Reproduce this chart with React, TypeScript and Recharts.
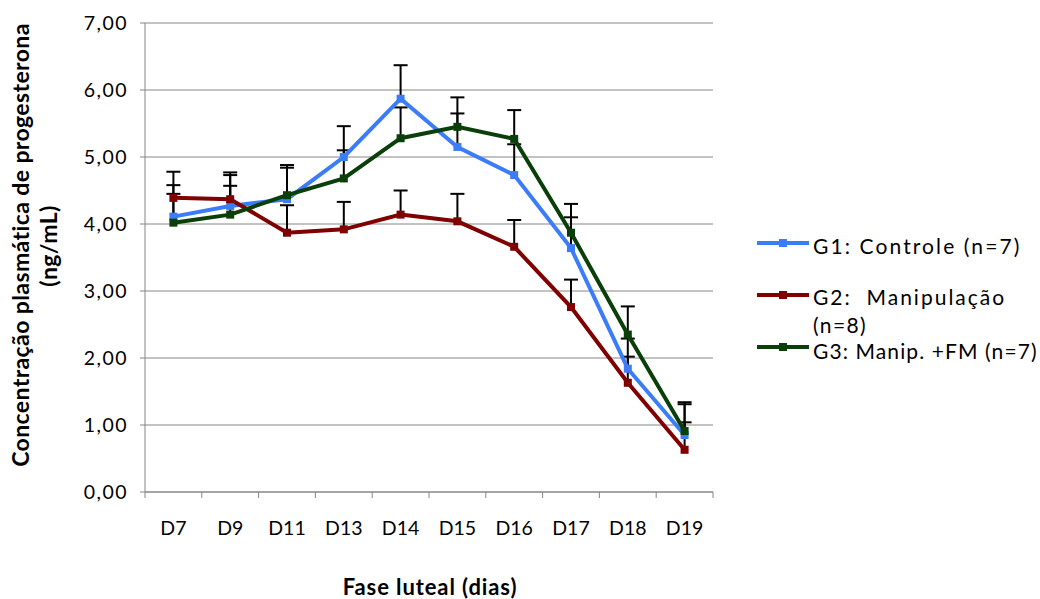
import {
  CartesianGrid,
  Label,
  Legend,
  Line,
  LineChart,
  ReferenceLine,
  XAxis,
  YAxis,
} from 'recharts';

const days = ['D7', 'D9', 'D11', 'D13', 'D14', 'D15', 'D16', 'D17', 'D18', 'D19'];

const g1Values = [4.11, 4.27, 4.37, 5.0, 5.87, 5.15, 4.73, 3.64, 1.84, 0.85];
const g2Values = [4.39, 4.37, 3.87, 3.92, 4.14, 4.04, 3.66, 2.76, 1.63, 0.63];
const g3Values = [4.02, 4.14, 4.43, 4.68, 5.28, 5.45, 5.27, 3.87, 2.35, 0.91];

// upper error only (plus side)
const g1Errors = [0.47, 0.46, 0.47, 0.46, 0.5, 0.5, 0.46, 0.46, 0.45, 0.46];
const g2Errors = [0.39, 0.4, 0.41, 0.41, 0.36, 0.41, 0.4, 0.41, 0.39, 0.41];
const g3Errors = [0.43, 0.43, 0.45, 0.42, 0.46, 0.44, 0.43, 0.43, 0.42, 0.43];

const yTicks = [0, 1, 2, 3, 4, 5, 6, 7];

const series = [
  { key: 'g1', name: 'G1: Controle (n=7)', color: '#3b7cf8', values: g1Values, errors: g1Errors },
  { key: 'g2', name: 'G2:  Manipulação (n=8)', color: '#800000', values: g2Values, errors: g2Errors },
  { key: 'g3', name: 'G3: Manip. +FM (n=7)', color: '#0a3f0a', values: g3Values, errors: g3Errors },
];

const data = days.map((day, i) => ({
  day,
  g1: g1Values[i],
  g2: g2Values[i],
  g3: g3Values[i],
}));

const FONT = 'Lato, "Open Sans", sans-serif';
const AXIS_GRAY = '#868686';
const WIDTH = 1040;
const HEIGHT = 599;
const MARGIN = { top: 23, right: 327, bottom: 0, left: 0 };
const Y_AXIS_WIDTH = 145;
const BAND = (WIDTH - MARGIN.right - MARGIN.left - Y_AXIS_WIDTH) / days.length;

function DayTick(props: any) {
  const { x, y, payload, index } = props;
  const left = x - BAND / 2;
  const right = x + BAND / 2;
  return (
    <g>
      <line x1={left} x2={left} y1={y} y2={y + 6} stroke={AXIS_GRAY} />
      {index === days.length - 1 && (
        <line x1={right} x2={right} y1={y} y2={y + 6} stroke={AXIS_GRAY} />
      )}
      <text
        x={x}
        y={y + 35}
        textAnchor="middle"
        dominantBaseline="central"
        fontFamily={FONT}
        fontSize={19.5}
        fill="#000"
      >
        {payload.value}
      </text>
    </g>
  );
}

function ErrorShape(props: any) {
  const { x1, y1, x2, y2 } = props;
  const top = Math.min(y1, y2);
  return (
    <g>
      <line x1={x1} x2={x2} y1={y1} y2={y2} stroke="#000" strokeWidth={2} />
      <line x1={x1 - 7} x2={x1 + 7} y1={top} y2={top} stroke="#000" strokeWidth={2} />
    </g>
  );
}

function YTitle() {
  return (
    <g fontFamily={FONT} fontWeight="bold" fontSize={23} fill="#000" letterSpacing={0.4}>
      <text transform="translate(20,245) rotate(-90)" textAnchor="middle" dominantBaseline="central">
        Concentração plasmática de progesterona
      </text>
      <text transform="translate(48,246) rotate(-90)" textAnchor="middle" dominantBaseline="central">
        (ng/mL)
      </text>
    </g>
  );
}

function XTitle() {
  return (
    <text
      x={430}
      y={586}
      textAnchor="middle"
      dominantBaseline="central"
      fontFamily={FONT}
      fontWeight="bold"
      fontSize={22}
      letterSpacing={0.9}
      fill="#000"
    >
      Fase luteal (dias)
    </text>
  );
}

function LegendIcon({ color }: { color: string }) {
  return (
    <svg width={52} height={10} style={{ position: 'absolute', left: 0, top: -5 }}>
      <line x1={0} x2={52} y1={5} y2={5} stroke={color} strokeWidth={4} />
      <rect x={22} y={1} width={8} height={8} fill={color} />
    </svg>
  );
}

function LegendBox() {
  const textStyle = {
    position: 'absolute' as const,
    left: 56,
    fontFamily: FONT,
    fontSize: 21,
    color: '#000',
    whiteSpace: 'nowrap' as const,
    lineHeight: '22px',
  };
  return (
    <div style={{ position: 'relative', width: 283, height: 140 }}>
      <div style={{ position: 'absolute', left: 0, top: 15 }}>
        <LegendIcon color={series[0].color} />
      </div>
      <div style={{ ...textStyle, top: 7, letterSpacing: 2.1 }}>G1: Controle (n=7)</div>

      <div style={{ position: 'absolute', left: 0, top: 67 }}>
        <LegendIcon color={series[1].color} />
      </div>
      <div style={{ ...textStyle, top: 58, letterSpacing: 2 }}>G2:&nbsp; Manipulação</div>
      <div style={{ ...textStyle, top: 86, letterSpacing: 1.4 }}>(n=8)</div>

      <div style={{ position: 'absolute', left: 0, top: 119 }}>
        <LegendIcon color={series[2].color} />
      </div>
      <div style={{ ...textStyle, top: 112, letterSpacing: 1.1 }}>G3: Manip. +FM (n=7)</div>
    </div>
  );
}

export default function App() {
  return (
    <div style={{ position: 'absolute', left: 0, top: 0, width: WIDTH, height: HEIGHT, background: '#fff' }}>
      <LineChart width={WIDTH} height={HEIGHT} data={data} margin={MARGIN}>
        <CartesianGrid vertical={false} stroke={AXIS_GRAY} strokeWidth={1} />
        <XAxis
          dataKey="day"
          scale="band"
          height={107}
          axisLine={{ stroke: AXIS_GRAY }}
          tickLine={false}
          tickSize={0}
          tickMargin={0}
          interval={0}
          tick={<DayTick />}
        >
          <Label content={<XTitle />} />
        </XAxis>
        <YAxis
          type="number"
          domain={[0, 7]}
          ticks={yTicks}
          interval={0}
          width={Y_AXIS_WIDTH}
          axisLine={{ stroke: AXIS_GRAY }}
          tickLine={{ stroke: AXIS_GRAY }}
          tickSize={5}
          tickMargin={12}
          tick={{ fontFamily: FONT, fontSize: 19.5, fill: '#000', letterSpacing: 1.5 }}
          tickFormatter={(v: number) => v.toFixed(2).replace('.', ',')}
        >
          <Label content={<YTitle />} />
        </YAxis>

        {series.map((s) =>
          days.map((day, i) => (
            <ReferenceLine
              key={`${s.key}-err-${day}`}
              segment={[
                { x: day, y: s.values[i] },
                { x: day, y: s.values[i] + s.errors[i] },
              ]}
              ifOverflow="visible"
              shape={ErrorShape}
            />
          ))
        )}

        {series.map((s) => (
          <Line
            key={s.key}
            dataKey={s.key}
            name={s.name}
            type="linear"
            stroke={s.color}
            strokeWidth={4}
            isAnimationActive={false}
            dot={(p: any) => (
              <rect
                key={`${s.key}-dot-${p.index}`}
                x={p.cx - 4}
                y={p.cy - 4}
                width={8}
                height={8}
                fill={s.color}
              />
            )}
            activeDot={false}
          />
        ))}

        <Legend
          layout="vertical"
          align="center"
          verticalAlign="middle"
          content={() => <LegendBox />}
          wrapperStyle={{ left: 757, top: 228, width: 283, height: 140 }}
        />
      </LineChart>
    </div>
  );
}
